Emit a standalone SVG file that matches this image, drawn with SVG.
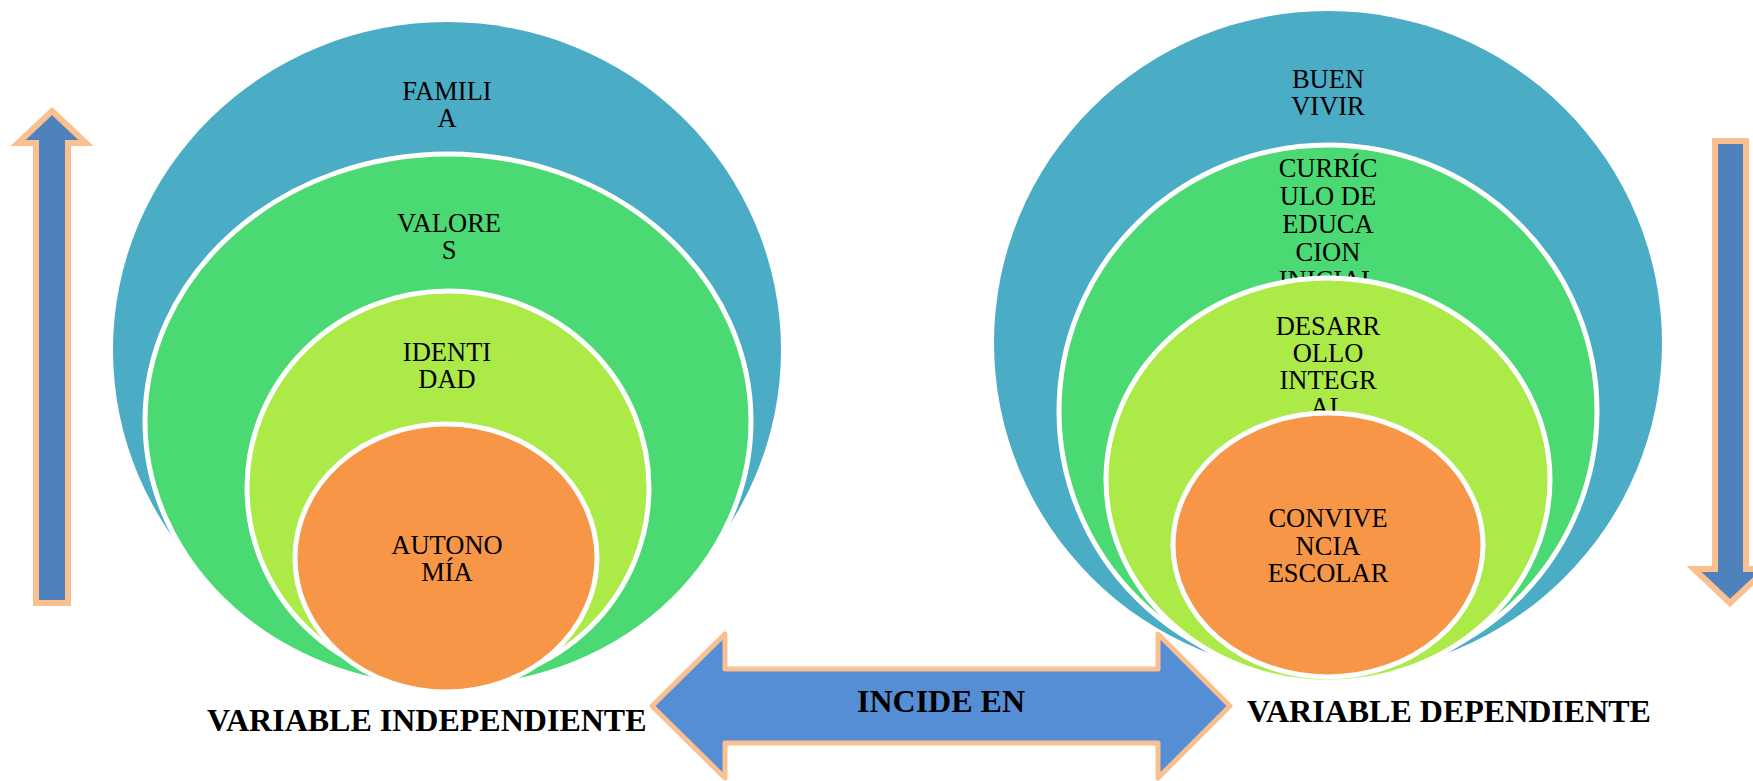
<svg xmlns="http://www.w3.org/2000/svg" width="1753" height="781" viewBox="0 0 1753 781">
<style>
.blue{fill:#4BACC6;stroke:none}
.green{fill:#4AD973;stroke:#FFFFFF;stroke-width:5}
.lime{fill:#ACEA47;stroke:#FFFFFF;stroke-width:5}
.orange{fill:#F79646;stroke:#FFFFFF;stroke-width:5}
.lbl{font-family:"Liberation Serif","Times New Roman",serif;font-size:26.5px;fill:#000;text-anchor:middle}
.big{font-family:"Liberation Serif","Times New Roman",serif;font-size:32px;font-weight:bold;fill:#000}
.varrow{fill:#4F81BD;stroke:#FAC08F;stroke-width:6;stroke-linejoin:miter}
.harrow{fill:#558ED5;stroke:#FAC08F;stroke-width:5;stroke-linejoin:round}
</style>
<rect width="1753" height="781" fill="#FFFFFF"/>

<g id="left-venn">
  <g id="familia">
    <ellipse class="blue" cx="447" cy="350" rx="334" ry="328"/>
    <text class="lbl" x="447" y="100">FAMILI</text>
    <text class="lbl" x="447" y="127">A</text>
  </g>
  <g id="valores">
    <ellipse class="green" cx="448" cy="421" rx="303" ry="267"/>
    <text class="lbl" x="449" y="232">VALORE</text>
    <text class="lbl" x="449" y="259">S</text>
  </g>
  <g id="identidad">
    <ellipse class="lime" cx="448" cy="488" rx="201" ry="197"/>
    <text class="lbl" x="447" y="361">IDENTI</text>
    <text class="lbl" x="447" y="388">DAD</text>
  </g>
  <g id="autonomia">
    <ellipse class="orange" cx="446" cy="558" rx="151" ry="134"/>
    <text class="lbl" x="447" y="554">AUTONO</text>
    <text class="lbl" x="447" y="581">MÍA</text>
  </g>
</g>

<g id="right-venn">
  <g id="buen-vivir">
    <ellipse class="blue" cx="1328" cy="343" rx="334" ry="332"/>
    <text class="lbl" x="1328" y="88">BUEN</text>
    <text class="lbl" x="1328" y="115">VIVIR</text>
  </g>
  <g id="curriculo">
    <ellipse class="green" cx="1328" cy="411" rx="269" ry="266"/>
    <text class="lbl" x="1328" y="177">CURRÍC</text>
    <text class="lbl" x="1328" y="205">ULO DE</text>
    <text class="lbl" x="1328" y="233">EDUCA</text>
    <text class="lbl" x="1328" y="261">CION</text>
    <text class="lbl" x="1328" y="289">INICIAL</text>
  </g>
  <g id="desarrollo">
    <ellipse class="lime" cx="1328" cy="480" rx="222" ry="202"/>
    <text class="lbl" x="1328" y="335">DESARR</text>
    <text class="lbl" x="1328" y="362">OLLO</text>
    <text class="lbl" x="1328" y="389">INTEGR</text>
    <text class="lbl" x="1328" y="416">AL</text>
  </g>
  <g id="convivencia">
    <ellipse class="orange" cx="1328" cy="545" rx="155" ry="132"/>
    <text class="lbl" x="1328" y="527">CONVIVE</text>
    <text class="lbl" x="1328" y="555">NCIA</text>
    <text class="lbl" x="1328" y="582">ESCOLAR</text>
  </g>
</g>

<g id="connectors">
  <path id="arrow-up" class="varrow" d="M52,111 L86,143 L68,143 L68,603 L36,603 L36,143 L18,143 Z"/>
  <path id="arrow-down" class="varrow" d="M1715,141 L1746,141 L1746,569 L1766,569 L1730,603 L1694,569 L1715,569 Z"/>
  <g id="incide-en">
    <path class="harrow" d="M652,706 L725,634 L725,669 L1158,669 L1158,634 L1230,706 L1158,778 L1158,743 L725,743 L725,778 Z"/>
    <text class="big" x="941" y="712" text-anchor="middle">INCIDE EN</text>
  </g>
</g>

<g id="labels">
  <text class="big" x="207" y="731">VARIABLE INDEPENDIENTE</text>
  <text class="big" x="1247" y="722">VARIABLE DEPENDIENTE</text>
</g>
</svg>
